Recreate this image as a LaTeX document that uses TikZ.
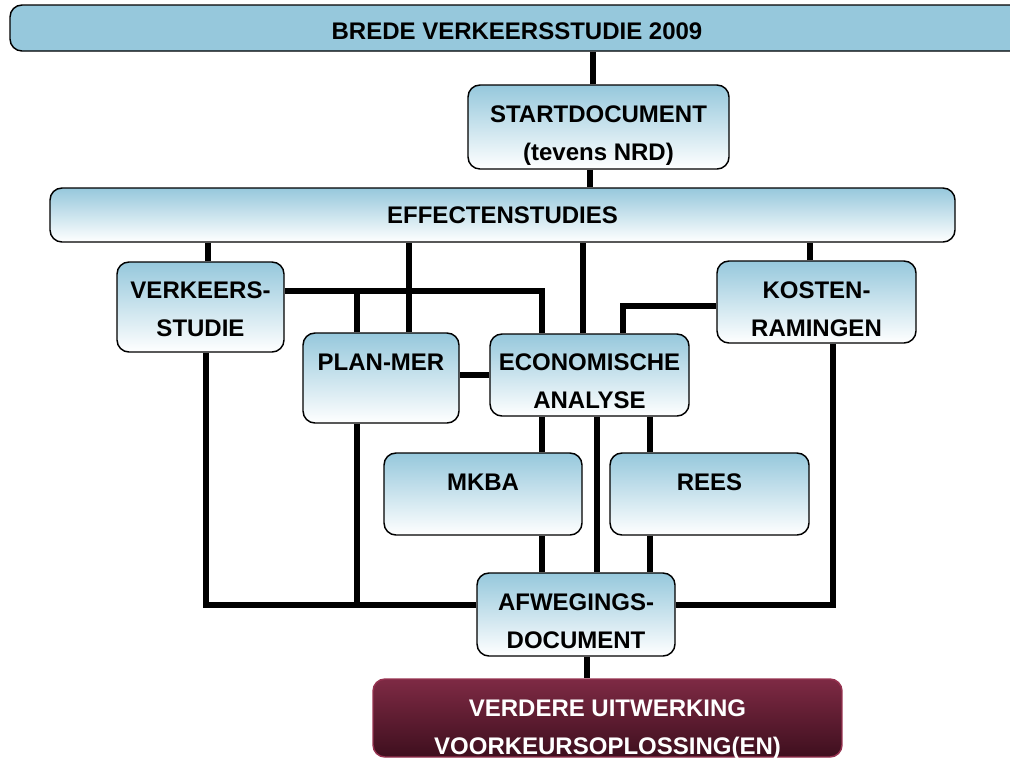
\documentclass[tikz,border=0pt]{standalone}
\usepackage{fontspec}
\setmainfont{Liberation Sans}
\usepackage{tikz}
\usetikzlibrary{calc}
\usetikzlibrary{shapes}
\definecolor{blauw}{RGB}{150,200,220}
\definecolor{wijnrood}{RGB}{126,42,68}
\definecolor{donkerrood}{RGB}{62,15,30}
\definecolor{randrood}{RGB}{150,50,80}
\tikzset{
  blok/.style={draw=black, line width=1.1pt, rounded corners=9pt, top color=blauw, bottom color=white, inner sep=0pt},
  kop/.style={blok, fill=blauw, top color=blauw, bottom color=blauw},
  eind/.style={blok, draw=randrood, top color=wijnrood, bottom color=donkerrood},
  tekst/.style={align=center, inner sep=0pt, font=\bfseries\fontsize{18}{28.5}\selectfont},
  lijn/.style={line width=3.8pt, black}
}
\newcommand{\blok}[7]{\node[#1, minimum width={#5*0.75pt}, minimum height={#6*0.75pt}] (#2) at (#3) {};
  \node[tekst, #7] (#2-tekst) at (#2) {#4};}

\begin{document}
\begin{tikzpicture}[x=0.75pt,y=-0.75pt]
        \useasboundingbox (0,0) rectangle (1010,758);
        % boxes
        \blok{kop}{brede}{517,28}{BREDE VERKEERSSTUDIE 2009}{1014}{46}{yshift=-2.2pt}
        \blok{blok}{start}{598.5,127}{STARTDOCUMENT\\(tevens NRD)}{261}{84}{yshift=-6.7pt}
        \blok{blok}{effect}{502.5,215}{EFFECTENSTUDIES}{905}{54}{}
        \blok{blok}{verkeer}{200.5,307}{VERKEERS-\\STUDIE}{167}{90}{yshift=-1.5pt}
        \blok{blok}{planmer}{381,378}{PLAN-MER\\\mbox{}}{156}{90}{yshift=-2.2pt}
        \blok{blok}{econ}{589.5,375}{ECONOMISCHE\\ANALYSE}{199}{82}{yshift=-4.5pt}
        \blok{blok}{kosten}{816.5,302}{KOSTEN-\\RAMINGEN}{199}{82}{yshift=-5.2pt}
        \blok{blok}{mkba}{483,494}{MKBA\\\mbox{}}{198}{82}{yshift=-5.2pt}
        \blok{blok}{rees}{709.5,494}{REES\\\mbox{}}{199}{82}{yshift=-5.2pt}
        \blok{blok}{afweg}{576,614.5}{AFWEGINGS-\\DOCUMENT}{198}{83}{yshift=-5.2pt}
        \blok{eind}{verder}{607.5,718}{VERDERE UITWERKING\\VOORKEURSOPLOSSING(EN)}{469}{78}{yshift=-9pt, text=white}
        % top
        \draw[lijn] ($(start.north)+(-5.5,0)$) coordinate (a1) -- (a1 |- brede.south);
        \draw[lijn] ($(start.south)+(-8.5,0)$) coordinate (a2) -- (a2 |- effect.north);
        % effectenstudies
        \draw[lijn] ($(verkeer.north)+(7.5,0)$) coordinate (a3) -- (a3 |- effect.south);
        \draw[lijn] ($(planmer.north)+(28,0)$) coordinate (a4) -- (a4 |- effect.south);
        \draw[lijn] ($(econ.north)+(-6.5,0)$) coordinate (a5) -- (a5 |- effect.south);
        \draw[lijn] ($(kosten.north)+(-6.5,0)$) coordinate (a6) -- (a6 |- effect.south);
        % cross links
        \draw[lijn] ($(verkeer.east)+(0,-16)$) coordinate (b1) -| ($(econ.north)+(-47.5,0)$);
        \draw[lijn] ($(planmer.north)+(-24,0)$) coordinate (a7) -- (a7 |- b1);
        \draw[lijn] ($(kosten.west)+(0,4)$) -| ($(econ.north)+(33.5,0)$);
        \draw[lijn] (econ.west) -- (econ.west -| planmer.east);
        % economische analyse
        \draw[lijn] ($(econ.south)+(-47.5,0)$) coordinate (a8) -- (a8 |- mkba.north);
        \draw[lijn] ($(econ.south)+(7.5,0)$) coordinate (a9) -- (a9 |- afweg.north);
        \draw[lijn] ($(econ.south)+(60.5,0)$) coordinate (a10) -- (a10 |- rees.north);
        \draw[lijn] (a8 |- mkba.south) -- (a8 |- afweg.north);
        \draw[lijn] (a10 |- rees.south) -- (a10 |- afweg.north);
        % afwegingsdocument
        \draw[lijn] ($(verkeer.south)+(5.5,0)$) |- ($(afweg.west)+(0,-9.5)$) coordinate (b2);
        \draw[lijn] ($(planmer.south)+(-24,0)$) coordinate (a11) -- (a11 |- b2);
        \draw[lijn] ($(kosten.south)+(16.5,0)$) |- ($(afweg.east)+(0,-9.5)$);
        \draw[lijn] ($(afweg.south)+(11,0)$) coordinate (a12) -- (a12 |- verder.north);
\end{tikzpicture}
\end{document}
